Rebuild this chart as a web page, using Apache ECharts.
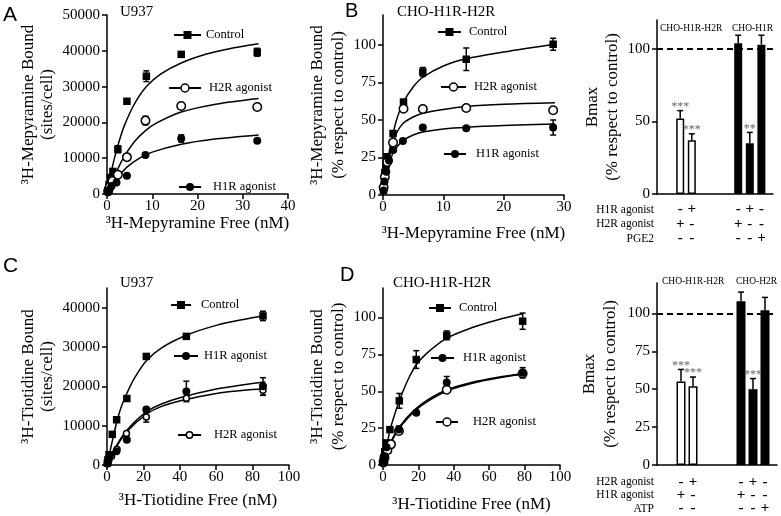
<!DOCTYPE html>
<html>
<head>
<meta charset="utf-8">
<script src="https://cdn.jsdelivr.net/npm/echarts@6/dist/echarts.min.js"></script>
<style>
  html, body { margin: 0; padding: 0; background: #fff; }
  #c { width: 781px; height: 516px; }
</style>
</head>
<body>
<div id="c"></div>
<script>
var serif = '"Liberation Serif", "Times New Roman", serif';
var sans = '"Liberation Sans", Arial, sans-serif';

// ---- data: points are [free, bound, sem] ----
// A: U937, 3H-mepyramine
var aCtrl = [[0.2, 1000, 0], [0.45, 2600, 0], [0.8, 4600, 0], [1.3, 6300, 0], [2.4, 12500, 1000], [4.4, 25900, 0], [8.7, 32900, 1500], [16.4, 39000, 0], [33.2, 39600, 1100]];
var aH2 = [[0.25, 800, 0], [0.6, 2000, 0], [1.2, 3600, 0], [2.4, 5400, 0], [4.4, 10300, 0], [8.5, 20500, 1200], [16.4, 24600, 0], [33.2, 24300, 0]];
var aH1 = [[0.2, 500, 0], [0.5, 1200, 0], [1.0, 2200, 0], [2.1, 3200, 0], [4.4, 5100, 0], [8.5, 10900, 0], [16.4, 15500, 1000], [33.2, 14900, 0]];
var aCtrlFit = [[0, 0], [0.8, 5300], [1.7, 10300], [2.8, 15200], [3.9, 19300], [6, 25000], [8.7, 30000], [12, 33600], [16.4, 36600], [22, 39100], [27.8, 40800], [33.5, 42000]];
var aH2Fit = [[0, 0], [1, 3000], [2, 5900], [3.5, 9800], [6, 14500], [8.5, 17700], [10.9, 19800], [16.4, 22900], [24, 25100], [33.5, 26700]];
var aH1Fit = [[0, 0], [1, 2000], [2.4, 4600], [4.4, 7500], [7.2, 10000], [10, 11700], [16.4, 13900], [23.4, 15300], [33.5, 16500]];

// B: CHO-H1R-H2R, 3H-mepyramine (% of control)
var bCtrl = [[0.08, 3, 0], [0.15, 6, 0], [0.28, 15, 0], [0.5, 20, 0], [0.66, 25.5, 0], [1.66, 41, 0], [3.4, 62, 0], [6.6, 82, 3], [13.8, 90.5, 7.5], [28.2, 100.5, 4]];
var bH2 = [[0.1, 5, 0], [0.3, 12, 0], [0.7, 22, 0], [1.66, 35, 0], [3.4, 57.5, 0], [6.6, 57.3, 0], [13.8, 58, 0], [28.2, 56.5, 0]];
var bH1 = [[0.1, 3, 0], [0.25, 9, 0], [0.55, 15.5, 0], [1.0, 23, 0], [1.7, 30, 0], [3.3, 36, 0], [6.6, 45, 0], [13.8, 44.5, 0], [28.2, 45, 5]];
var bCtrlFit = [[0, 0], [0.5, 15], [1, 28], [1.66, 41], [2.4, 52], [3.4, 62], [5, 72], [6.6, 78.5], [10, 86], [13.8, 90.8], [20, 95.3], [28.5, 100.5]];
var bH2Fit = [[0, 0], [0.5, 13], [1, 25], [1.66, 35], [2.4, 42.5], [3.4, 48], [5, 52], [6.6, 54.5], [10, 57], [13.8, 59], [20, 60.5], [28.5, 61.5]];
var bH1Fit = [[0, 0], [0.5, 11], [1, 20], [1.66, 28], [2.4, 32.5], [3.4, 36.5], [5, 40], [6.6, 42], [10, 44], [13.8, 45.2], [20, 46.3], [28.5, 47.3]];

// C: U937, 3H-tiotidine
var cCtrl = [[0.2, 500, 0], [0.5, 1300, 0], [1.1, 2600, 0], [2.9, 7800, 0], [5.3, 11500, 0], [10.9, 16900, 0], [21.6, 27600, 0], [43.6, 32700, 0], [85.7, 37900, 1200]];
var cH1 = [[0.3, 400, 0], [0.8, 1200, 0], [1.6, 2500, 0], [5.2, 3500, 0], [10.9, 6400, 0], [21.6, 14100, 0], [43.6, 18700, 2600], [85.7, 20000, 2200]];
var cH2 = [[0.3, 300, 0], [0.8, 1000, 0], [2.5, 2200, 0], [5.5, 4000, 0], [10.7, 8000, 0], [21.6, 12200, 1300], [43.6, 17000, 0], [85.7, 19000, 1300]];
var cCtrlFit = [[0, 0], [2, 4200], [4, 8300], [5.5, 11200], [8, 15000], [11, 18300], [15, 22000], [21.6, 26500], [30, 29800], [43.6, 33000], [60, 35500], [75, 37000], [87, 38000]];
var cH1Fit = [[0, 0], [2, 1900], [5.5, 5200], [11, 8900], [21.6, 13500], [30, 15500], [41, 17200], [60, 19300], [75, 20400], [87, 21100]];
var cH2Fit = [[0, 0], [2, 1800], [5.5, 4900], [11, 8500], [21.6, 12900], [30, 14900], [41, 16400], [60, 18200], [75, 19000], [87, 19400]];

// D: CHO-H1R-H2R, 3H-tiotidine (% of control)
var dCtrl = [[0.2, 2, 0], [0.5, 5, 0], [1, 9, 0], [1.9, 15, 0], [3.9, 24, 0], [9.2, 43.5, 5], [18.8, 71.5, 6], [36, 87.9, 3], [78.9, 97.5, 5.5]];
var dH1 = [[0.2, 1, 0], [0.5, 3, 0], [1, 6, 0], [2, 12, 0], [9, 24, 2.5], [18.8, 35.5, 0], [36, 56, 4], [78.9, 62.5, 3.5]];
var dH2 = [[0.3, 2, 0], [0.8, 5, 0], [2.5, 10, 0], [4.5, 14, 0], [9, 23, 0], [36, 51, 0], [78.9, 62, 0]];
var dCtrlFit = [[0, 0], [2, 12], [4, 24], [6, 32], [9.2, 43.5], [12, 52], [15, 60], [18.8, 68], [25, 76], [36, 86], [50, 93], [65, 98.5], [79, 102.5]];
var dH1Fit = [[0, 0], [2, 7], [4, 14], [6, 19.5], [9, 25.5], [12, 30], [15, 34], [18.8, 38.5], [25, 44], [36, 51], [50, 56], [65, 59.5], [79, 62]];
var dH2Fit = [[0, 0], [2, 6.5], [4, 13], [6, 18.5], [9, 24.5], [12, 29], [15, 33], [18.8, 37.5], [25, 43], [36, 50.2], [50, 55.3], [65, 59], [79, 61.5]];

// Bmax bar panels (slots on a category axis, '-' = empty slot)
var bmTopSigns = ['', '', '-\n+\n-', '+\n-\n-', '', '', '', '-\n+\n-', '+\n-\n-', '-\n-\n+', ''];
var bmTopVals = ['-', '-', 52, 37, '-', '-', '-', 104, 35, 103, '-'];
var bmTopErr = [0, 0, 5.5, 4.5, 0, 0, 0, 5.5, 7.5, 6.5, 0];
var bmTopStars = ['', '', '***', '***', '', '', '', '', '**', '', ''];
var bmTopRows = ['H1R agonist', 'H2R agonist', 'PGE2'];
var bmBotSigns = ['', '', '-\n+\n-', '+\n-\n-', '', '', '', '-\n+\n-', '+\n-\n-', '-\n-\n+', ''];
var bmBotVals = ['-', '-', 55, 52, '-', '-', '-', 108, 50, 102, '-'];
var bmBotErr = [0, 0, 8, 6, 0, 0, 0, 6, 7, 8.5, 0];
var bmBotStars = ['', '', '***', '***', '', '', '', '', '***', '', ''];
var bmBotRows = ['H2R agonist', 'H1R agonist', 'ATP'];

var pctTicks = [0, 25, 50, 75, 100];
var bmTopTicks = [0, 50, 100];
var cTicks = [0, 10000, 20000, 30000, 40000];

// ---- helpers ----
var axLine = { show: true, onZero: false, lineStyle: { color: '#000', width: 1.5 } };
var axTick = { show: true, inside: false, length: 5, lineStyle: { color: '#000', width: 1.5 } };
function lbl(margin) {
  return { color: '#000', fontFamily: serif, fontSize: 15, margin: margin, formatter: function (v) { return String(v); } };
}
var nameStyle = { color: '#000', fontFamily: serif, fontSize: 17, lineHeight: 18 };

function xVal(gi, max, interval, name, gap) {
  return {
    type: 'value', gridIndex: gi, min: 0, max: max, interval: interval,
    axisLine: axLine, axisTick: axTick, axisLabel: lbl(5), splitLine: { show: false },
    name: name, nameLocation: 'middle', nameGap: gap, nameTextStyle: nameStyle
  };
}
function yVal(gi, max, interval, ticks, name, gap, lh) {
  var ax = {
    type: 'value', gridIndex: gi, min: 0, max: max, interval: interval,
    axisLine: axLine, axisTick: Object.assign({}, axTick), axisLabel: lbl(7), splitLine: { show: false },
    name: name, nameLocation: 'middle', nameGap: gap,
    nameTextStyle: Object.assign({}, nameStyle, { lineHeight: lh })
  };
  if (ticks) { ax.axisTick.customValues = ticks; ax.axisLabel.customValues = ticks; }
  return ax;
}
function xCat(gi, signs, margin, lh) {
  return {
    type: 'category', gridIndex: gi, boundaryGap: false,
    data: signs.map(function (s, i) { return 'slot' + i; }),
    axisLine: axLine, axisTick: { show: false },
    axisLabel: {
      interval: 0, color: '#000', fontFamily: serif, fontSize: 15, fontWeight: 'bold', lineHeight: lh, margin: margin,
      formatter: function (v, i) { return signs[i]; }
    }
  };
}

function fitLine(name, data, gi, symbol, open) {
  return {
    name: name, type: 'line', xAxisIndex: gi, yAxisIndex: gi, data: data,
    smooth: 0.3, symbol: symbol, showSymbol: false, z: 2, silent: true,
    lineStyle: { color: '#000', width: 1.5 },
    itemStyle: open ? { color: '#fff', borderColor: '#000', borderWidth: 1.5 } : { color: '#000' }
  };
}
function points(pts, gi, symbol, size, open) {
  return {
    type: 'scatter', xAxisIndex: gi, yAxisIndex: gi, z: 5, silent: true,
    data: pts.map(function (p) { return [p[0], p[1]]; }),
    symbol: symbol, symbolSize: size,
    itemStyle: open ? { color: '#fff', borderColor: '#000', borderWidth: 1.5, opacity: 1 } : { color: '#000', opacity: 1 }
  };
}
function errBars(data, gi, capW, upOnly, stars) {
  return {
    type: 'custom', xAxisIndex: gi, yAxisIndex: gi, data: data, z: 4, silent: true,
    renderItem: function (params, api) {
      var x = api.value(0), y = api.value(1), e = api.value(2);
      var top = api.coord([x, y + e]);
      var bot = api.coord([x, upOnly ? y : y - e]);
      var st = { stroke: '#000', lineWidth: 1.5 };
      var kids = [
        { type: 'line', shape: { x1: top[0], y1: top[1], x2: bot[0], y2: bot[1] }, style: st },
        { type: 'line', shape: { x1: top[0] - capW / 2, y1: top[1], x2: top[0] + capW / 2, y2: top[1] }, style: st }
      ];
      if (!upOnly) kids.push({ type: 'line', shape: { x1: bot[0] - capW / 2, y1: bot[1], x2: bot[0] + capW / 2, y2: bot[1] }, style: st });
      if (stars && stars[params.dataIndex]) {
        kids.push({ type: 'text', style: { text: stars[params.dataIndex], x: top[0], y: top[1] + 2, align: 'center', verticalAlign: 'bottom', fill: '#666', font: '12px ' + serif } });
      }
      return { type: 'group', children: kids };
    }
  };
}
function errData(pts) {
  return pts.filter(function (p) { return p[2] > 0; });
}
function panel(gi, ctrl, h1, h2, ctrlFit, h1Fit, h2Fit, openSize) {
  return [
    fitLine('Control', ctrlFit, gi, 'rect', false),
    fitLine('H2R agonist', h2Fit, gi, 'circle', true),
    fitLine('H1R agonist', h1Fit, gi, 'circle', false),
    errBars(errData(ctrl).concat(errData(h1), errData(h2)), gi, 6, false),
    points(ctrl, gi, 'rect', 7.5, false),
    points(h2, gi, 'circle', openSize, true),
    points(h1, gi, 'circle', 8, false)
  ];
}
function bars(gi, vals, errs, stars, width) {
  var errPts = [], starList = [];
  vals.forEach(function (v, i) { if (v !== '-') { errPts.push([i, v, errs[i]]); starList.push(stars[i]); } });
  return [{
    type: 'bar', xAxisIndex: gi, yAxisIndex: gi, barWidth: width, silent: true, z: 2,
    data: vals.map(function (v, i) {
      return { value: v, itemStyle: i < 5 ? { color: '#fff', borderColor: '#000', borderWidth: 1.5 } : { color: '#000' } };
    }),
    markLine: {
      silent: true, symbol: 'none', label: { show: false }, z: 1,
      lineStyle: { color: '#000', width: 2, type: [6, 4] },
      data: [{ yAxis: 100 }]
    }
  }, errBars(errPts, gi, 6, true, starList)];
}
// legend entry: icon from `left` (width w), text starting at x = tx, centered at cy
function leg(name, left, w, tx, cy, h, open) {
  var item = { name: name };
  if (open) item.itemStyle = { color: '#fff', borderColor: '#000', borderWidth: 1.5 };
  else item.itemStyle = { borderWidth: 0 };
  return {
    show: true, selectedMode: false, left: left, top: cy - 8, padding: 0,
    itemWidth: w, itemHeight: h, data: [item],
    lineStyle: { width: 2, color: '#000' },
    textStyle: { color: '#000', fontFamily: serif, fontSize: 12.5, lineHeight: 16, height: 16, padding: [0, 0, 0, Math.max(0, tx - left - w - 5)] }
  };
}
function txt(s, x, y, size, font, align) {
  return { type: 'text', x: x, y: y, silent: true, style: { text: s, fill: '#000', font: size + 'px ' + font, align: align || 'left', verticalAlign: 'middle' } };
}
function rowLabels(rows, x, y0, step) {
  return rows.map(function (r, i) { return txt(r, x, y0 + i * step, 11.5, serif, 'right'); });
}

var chart = echarts.init(document.getElementById('c'), null, { renderer: 'canvas' });
chart.setOption({
  animation: false,
  backgroundColor: '#fff',
  grid: [
    { left: 107, top: 15, width: 181, height: 179 },
    { left: 383, top: 15, width: 181, height: 180 },
    { left: 657, top: 20, width: 116, height: 174 },
    { left: 107, top: 288, width: 182, height: 177 },
    { left: 383, top: 288, width: 177, height: 177 },
    { left: 657, top: 283, width: 120, height: 182 }
  ],
  xAxis: [
    xVal(0, 40, 10, '³H-Mepyramine Free (nM)', 20),
    xVal(1, 30, 10, '³H-Mepyramine Free (nM)', 30),
    xCat(2, bmTopSigns, 8, 14.5),
    xVal(3, 100, 20, '³H-Tiotidine Free (nM)', 27),
    xVal(4, 100, 20, '³H-Tiotidine Free (nM)', 31),
    xCat(5, bmBotSigns, 10, 13.3)
  ],
  yAxis: [
    yVal(0, 50000, 10000, null, '³H-Mepyramine Bound\n(sites/cell)', 50, 19),
    yVal(1, 120, 25, pctTicks, '³H-Mepyramine Bound\n(% respect to control)', 34, 21),
    yVal(2, 120, 50, bmTopTicks, 'Bmax\n(% respect to control)', 34, 20),
    yVal(3, 45000, 10000, cTicks, '³H-Tiotidine Bound\n(sites/cell)', 50, 19),
    yVal(4, 120, 25, pctTicks, '³H-Tiotidine Bound\n(% respect to control)', 34, 21),
    yVal(5, 120, 25, pctTicks, 'Bmax\n(% respect to control)', 36, 21)
  ],
  legend: [
    leg('Control', 173, 27, 204, 35, 10, false),
    leg('H2R agonist', 168, 32, 208, 88, 10, true),
    leg('H1R agonist', 178, 22, 212, 187, 10, false),
    leg('Control', 437, 23, 468, 32, 10, false),
    leg('H2R agonist', 440, 25, 473, 87, 10, true),
    leg('H1R agonist', 443, 22, 475, 154, 10, false),
    leg('Control', 170, 20, 200, 305, 10, false),
    leg('H1R agonist', 173, 24, 203, 356, 10, false),
    leg('H2R agonist', 177, 23, 213, 435, 8, true),
    leg('Control', 428, 22, 458, 308, 10, false),
    leg('H1R agonist', 430, 23, 462, 358, 10, false),
    leg('H2R agonist', 435, 22, 472, 422, 10, true)
  ],
  graphic: [
    txt('A', 3, 15, 21, sans), txt('B', 345, 11, 20, sans),
    txt('C', 3, 266, 21, sans), txt('D', 340, 275, 20, sans),
    txt('U937', 120, 12, 15, serif), txt('CHO-H1R-H2R', 397, 12, 15, serif),
    txt('U937', 120, 283, 15, serif), txt('CHO-H1R-H2R', 393, 283, 15, serif),
    txt('CHO-H1R-H2R', 660, 28, 9.5, serif), txt('CHO-H1R', 732, 28, 9.5, serif),
    txt('CHO-H1R-H2R', 662, 281, 9.5, serif), txt('CHO-H2R', 736, 281, 9.5, serif)
  ].concat(rowLabels(bmTopRows, 654, 209.5, 14.5), rowLabels(bmBotRows, 654, 482, 13.3)),
  series: [].concat(
    panel(0, aCtrl, aH1, aH2, aCtrlFit, aH1Fit, aH2Fit, 8.5),
    panel(1, bCtrl, bH1, bH2, bCtrlFit, bH1Fit, bH2Fit, 8.5),
    bars(2, bmTopVals, bmTopErr, bmTopStars, 8),
    panel(3, cCtrl, cH1, cH2, cCtrlFit, cH1Fit, cH2Fit, 6),
    panel(4, dCtrl, dH1, dH2, dCtrlFit, dH1Fit, dH2Fit, 8.5),
    bars(5, bmBotVals, bmBotErr, bmBotStars, 9)
  )
});
window.addEventListener('resize', function () { chart.resize(); });
</script>
</body>
</html>
